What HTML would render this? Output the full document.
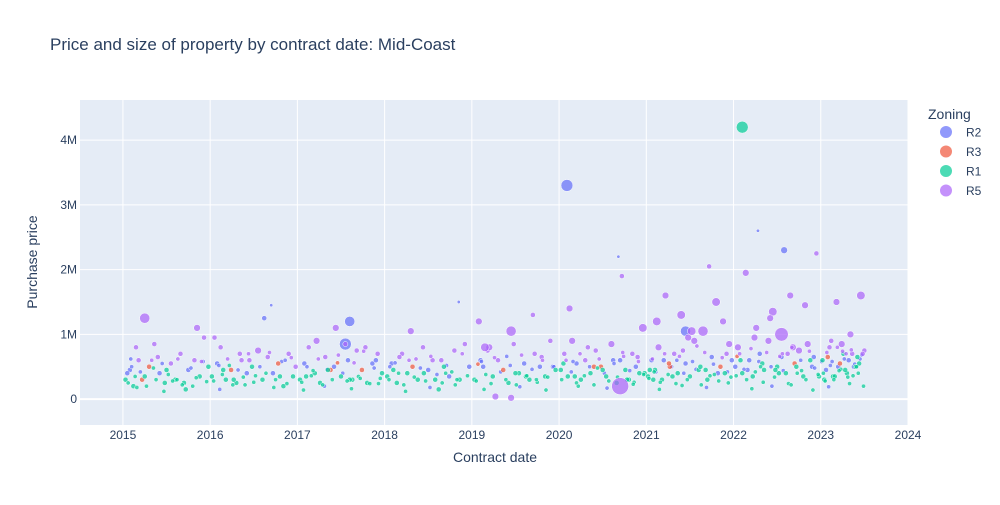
<!DOCTYPE html>
<html><head><meta charset="utf-8"><style>
body{margin:0;background:#fff;font-family:"Liberation Sans",Arial,sans-serif}
svg text{font-family:"Liberation Sans",Arial,sans-serif}
</style></head><body>
<svg id="chart" width="1000" height="500">
<rect x="0" y="0" width="1000" height="500" fill="#fff"/>
<text x="50" y="50" font-size="17" fill="#2a3f5f">Price and size of property by contract date: Mid-Coast</text>
<rect x="80" y="100" width="828" height="325" fill="#e5ecf6"/>
<g id="grid"></g><g id="pts"></g><g id="axes"></g>
<text x="495" y="462" font-size="14" fill="#2a3f5f" text-anchor="middle">Contract date</text>
<text transform="translate(37,262) rotate(-90)" font-size="14" fill="#2a3f5f" text-anchor="middle">Purchase price</text>
<g id="legend">
<text x="928" y="119" font-size="14" fill="#2a3f5f">Zoning</text>
</g>
</svg>
<script>
const xTicks=[2015,2016,2017,2018,2019,2020,2021,2022,2023,2024];
const yTicks=[0,1,2,3,4];
const yTickLabels=['0','1M','2M','3M','4M'];
const zoneNames=['R2','R3','R1','R5'];
const zoneColors=['#636efa','#EF553B','#00cc96','#ab63fa'];
const dates=[2015.03,2015.08,2015.12,2015.18,2015.25,2015.3,2015.36,2015.42,2015.48,2015.55,2015.6,2015.66,2015.72,2015.75,2015.82,2015.88,2015.93,2015.98,2015.05,2015.15,2015.22,2015.4,2015.5,2015.7,2015.85,
2016.02,2016.08,2016.12,2016.18,2016.24,2016.3,2016.36,2016.42,2016.48,2016.55,2016.6,2016.66,2016.72,2016.78,2016.84,2016.9,2016.95,2016.05,2016.15,2016.27,2016.45,2016.62,2016.8,2016.98,2016.7,2016.34,
2017.03,2017.08,2017.13,2017.2,2017.26,2017.32,2017.38,2017.44,2017.5,2017.55,2017.58,2017.63,2017.68,2017.74,2017.8,2017.86,2017.92,2017.97,2017.1,2017.22,2017.42,2017.6,2017.78,2017.9,2017.35,
2018.03,2018.08,2018.14,2018.2,2018.26,2018.32,2018.38,2018.44,2018.5,2018.55,2018.62,2018.68,2018.74,2018.8,2018.86,2018.92,2018.97,2018.1,2018.3,2018.45,2018.65,2018.85,2018.58,2018.17,
2019.03,2019.08,2019.13,2019.18,2019.24,2019.3,2019.36,2019.42,2019.48,2019.54,2019.6,2019.66,2019.72,2019.78,2019.84,2019.9,2019.96,2019.1,2019.27,2019.45,2019.62,2019.8,2019.93,2019.2,2019.5,2019.7,
2020.02,2020.06,2020.1,2020.15,2020.2,2020.25,2020.3,2020.36,2020.42,2020.48,2020.54,2020.6,2020.66,2020.7,2020.72,2020.76,2020.8,2020.84,2020.88,2020.92,2020.96,2020.05,2020.18,2020.33,2020.5,2020.62,2020.68,2020.78,2020.9,2020.98,2020.12,2020.4,
2021.02,2021.06,2021.1,2021.14,2021.18,2021.22,2021.27,2021.32,2021.36,2021.4,2021.45,2021.5,2021.55,2021.6,2021.65,2021.7,2021.75,2021.8,2021.85,2021.9,2021.95,2021.04,2021.12,2021.2,2021.3,2021.42,2021.52,2021.62,2021.72,2021.82,2021.92,2021.08,2021.26,2021.48,2021.68,2021.88,2021.98,
2022.02,2022.05,2022.1,2022.14,2022.18,2022.22,2022.26,2022.3,2022.35,2022.4,2022.45,2022.5,2022.55,2022.6,2022.65,2022.7,2022.75,2022.8,2022.85,2022.9,2022.95,2022.08,2022.16,2022.24,2022.33,2022.42,2022.52,2022.58,2022.62,2022.72,2022.82,2022.92,2022.28,2022.48,2022.68,2022.88,2022.98,
2023.02,2023.06,2023.1,2023.14,2023.18,2023.22,2023.26,2023.3,2023.34,2023.38,2023.42,2023.46,2023.5,2023.04,2023.12,2023.2,2023.28,2023.36,2023.44,2023.08,2023.16,2023.24,2023.32,2023.4,2023.48,
2020.09,2022.1,2020.7,2022.55,2017.6,2017.55,2015.25,2021.45,2019.15,2019.45,
2015.06,2015.1,2015.14,2015.2,2015.27,2015.33,2015.38,2015.45,2015.52,2015.57,2015.63,2015.68,2015.78,2015.84,2015.9,2015.96,
2016.04,2016.1,2016.14,2016.2,2016.26,2016.32,2016.38,2016.44,2016.5,2016.57,2016.64,2016.68,2016.75,2016.82,2016.88,2016.93,
2017.05,2017.11,2017.16,2017.24,2017.29,2017.34,2017.4,2017.47,2017.52,2017.57,2017.65,2017.7,2017.76,2017.83,2017.88,2017.95,
2018.05,2018.12,2018.16,2018.22,2018.28,2018.34,2018.41,2018.47,2018.53,2018.6,2018.66,2018.71,2018.77,2018.83,2018.89,2018.95,
2019.05,2019.11,2019.16,2019.22,2019.26,2019.33,2019.39,2019.44,2019.51,2019.57,2019.63,2019.69,2019.75,2019.81,2019.87,2019.94,
2020.03,2020.08,2020.14,2020.2,2020.24,2020.29,2020.35,2020.4,2020.46,2020.52,2020.57,2020.63,2020.67,2020.74,2020.81,2020.86,2020.91,2020.97,
2021.03,2021.07,2021.11,2021.16,2021.21,2021.25,2021.29,2021.34,2021.38,2021.43,2021.47,2021.53,2021.57,2021.63,2021.67,2021.73,2021.77,2021.83,2021.87,2021.93,2021.97,
2022.03,2022.07,2022.12,2022.15,2022.2,2022.25,2022.29,2022.34,2022.38,2022.43,2022.47,2022.53,2022.57,2022.63,2022.67,2022.73,2022.77,2022.83,2022.87,2022.93,2022.97,
2023.03,2023.07,2023.11,2023.15,2023.19,2023.23,2023.27,2023.31,2023.35,2023.39,2023.43,2023.47,2023.05,2023.13,2023.21,2023.29,2023.37,2023.45,
2015.09,2015.35,2015.62,2015.92,2016.22,2016.52,2016.86,2017.18,2017.46,2017.72,2018.06,2018.36,2018.7,2019.07,2019.4,2019.74,2020.16,2020.44,2020.73,2021.09,2021.35,2021.58,2021.78,2022.04,2022.31,2022.56,2022.78,2023.01,2023.25,2023.41,
2015.16,2015.47,2015.8,2016.11,2016.4,2016.73,2017.07,2017.31,2017.62,2017.93,2018.24,2018.52,2018.81,2019.14,2019.55,2019.85,2020.22,2020.55,2020.85,2021.15,2021.41,2021.69,2021.94,2022.21,2022.44,2022.66,2022.91,2023.09,2023.33,2023.49];
const prices=[0.3,0.45,0.2,0.6,0.35,0.5,0.85,0.4,0.25,0.55,0.3,0.7,0.15,0.45,0.6,0.35,0.95,0.5,0.4,0.8,0.3,0.65,0.45,0.25,1.1,
0.35,0.55,0.8,0.3,0.45,0.25,0.6,0.4,0.5,0.75,0.3,0.65,0.4,0.55,0.2,0.7,0.35,0.95,0.45,0.3,0.6,1.25,0.35,0.5,1.45,0.7,
0.3,0.55,0.8,0.4,0.25,0.65,0.45,1.1,0.35,0.85,0.6,0.3,0.75,0.45,0.25,0.55,0.7,0.4,0.35,0.9,0.5,0.3,0.8,0.6,0.45,
0.35,0.55,0.25,0.7,0.4,0.5,0.3,0.8,0.45,0.6,0.15,0.5,0.35,0.75,0.3,0.85,0.5,0.45,1.05,0.4,0.6,1.5,0.3,0.65,
0.3,1.2,0.5,0.75,0.35,0.6,0.45,0.25,0.85,0.4,0.55,0.3,0.7,0.5,0.35,0.9,0.45,0.6,0.04,1.05,0.35,0.65,0.5,0.8,0.4,1.3,
0.45,0.7,0.35,0.9,0.55,0.3,0.6,0.4,0.75,0.5,0.35,0.85,0.25,0.6,1.9,0.45,0.3,0.7,0.5,0.4,1.1,0.55,0.35,0.8,0.45,0.6,2.2,0.3,0.65,0.4,1.4,0.5,
0.35,0.6,0.45,0.8,0.3,1.6,0.5,0.7,0.4,1.3,0.55,0.35,0.9,0.45,1.05,0.3,0.65,1.5,0.5,0.4,0.85,0.45,1.2,0.6,0.35,0.75,1.05,0.5,2.05,0.4,0.7,0.3,0.55,0.95,0.45,1.2,0.6,
0.5,0.8,0.4,1.95,0.6,0.35,1.1,0.7,0.45,0.9,1.35,0.5,0.65,0.4,1.6,0.55,0.75,0.35,0.85,0.5,2.25,0.6,0.45,0.95,0.55,1.25,0.4,2.3,0.7,0.5,1.45,0.65,2.6,0.45,0.8,0.6,0.35,
0.6,0.45,0.8,0.35,1.5,0.55,0.7,0.4,1.0,0.5,0.65,1.6,0.75,0.3,0.9,0.5,0.45,0.7,0.55,0.65,0.35,0.85,0.6,0.5,0.7,
3.3,4.2,0.2,1.0,1.2,0.85,1.25,1.05,0.8,0.02,
0.25,0.5,0.35,0.42,0.2,0.6,0.3,0.55,0.38,0.28,0.62,0.22,0.48,0.33,0.58,0.27,
0.28,0.52,0.38,0.62,0.22,0.45,0.34,0.7,0.26,0.5,0.4,0.72,0.3,0.58,0.24,0.64,
0.26,0.5,0.36,0.62,0.22,0.46,0.3,0.68,0.4,0.28,0.56,0.35,0.74,0.24,0.48,0.32,
0.3,0.56,0.4,0.22,0.6,0.34,0.48,0.28,0.66,0.38,0.25,0.52,0.42,0.3,0.7,0.36,
0.28,0.58,0.38,0.24,0.64,0.42,0.3,0.52,0.22,0.68,0.36,0.46,0.26,0.6,0.34,0.5,
0.3,0.6,0.42,0.25,0.7,0.36,0.5,0.22,0.62,0.4,0.28,0.55,0.34,0.66,0.44,0.26,0.58,0.38,
0.32,0.62,0.42,0.26,0.7,0.38,0.5,0.24,0.66,0.4,0.3,0.58,0.46,0.22,0.72,0.36,0.54,0.28,0.64,0.42,0.34,
0.36,0.7,0.46,0.3,0.78,0.42,0.58,0.26,0.72,0.5,0.34,0.66,0.44,0.24,0.8,0.4,0.6,0.3,0.74,0.48,0.38,
0.4,0.72,0.52,0.3,0.8,0.46,0.62,0.34,0.76,0.54,0.4,0.68,0.28,0.58,0.44,0.7,0.36,0.62,
0.62,0.48,0.3,0.58,0.52,0.36,0.6,0.44,0.56,0.32,0.5,0.62,0.4,0.54,0.66,0.3,0.58,0.48,0.72,0.42,0.6,0.82,0.38,0.66,0.5,0.7,0.44,0.58,0.74,0.5,
0.18,0.12,0.2,0.15,0.22,0.18,0.14,0.2,0.16,0.24,0.12,0.18,0.22,0.15,0.19,0.14,0.2,0.17,0.23,0.15,0.21,0.18,0.25,0.16,0.2,0.22,0.14,0.19,0.24,0.2];
const sizes=[3,3,3,3,3,3,3,3,3,3,3,3,3,3,3,3,3,3,3,3,3,3,3,3,4,
3,3,3,3,3,3,3,3,3,4,3,3,3,3,3,3,3,3,3,3,3,3,3,3,2,3,
3,3,3,3,3,3,3,4,3,3,3,3,3,3,3,3,3,3,3,4,3,3,3,3,3,
3,3,3,3,3,3,3,3,3,3,3,3,3,3,3,3,3,3,4,3,3,2,3,3,
3,4,3,3,3,3,3,3,3,3,3,3,3,3,3,3,3,3,4,6,3,3,3,4,3,3,
3,3,3,4,3,3,3,3,3,3,3,4,3,3,3,3,3,3,3,3,5,3,3,3,3,3,2,3,3,3,4,3,
3,3,3,4,3,4,3,3,3,5,3,3,4,3,6,3,3,5,3,3,4,3,5,3,3,3,5,3,3,3,3,3,3,4,3,4,3,
3,4,3,4,3,3,4,3,3,4,5,3,3,3,4,3,4,3,4,3,3,3,3,4,3,4,3,4,3,3,4,3,2,3,4,3,3,
3,3,3,3,4,3,3,3,4,3,3,5,3,3,3,3,3,3,3,3,3,4,3,3,3,
7,7,10,8,6,7,6,6,5,4,
2.5,2.5,2.5,2.5,2.5,2.5,2.5,2.5,2.5,2.5,2.5,2.5,2.5,2.5,2.5,2.5,
2.5,2.5,2.5,2.5,2.5,2.5,2.5,2.5,2.5,2.5,2.5,2.5,2.5,2.5,2.5,2.5,
2.5,2.5,2.5,2.5,2.5,2.5,2.5,2.5,2.5,2.5,2.5,2.5,2.5,2.5,2.5,2.5,
2.5,2.5,2.5,2.5,2.5,2.5,2.5,2.5,2.5,2.5,2.5,2.5,2.5,2.5,2.5,2.5,
2.5,2.5,2.5,2.5,2.5,2.5,2.5,2.5,2.5,2.5,2.5,2.5,2.5,2.5,2.5,2.5,
2.5,2.5,2.5,2.5,2.5,2.5,2.5,2.5,2.5,2.5,2.5,2.5,2.5,2.5,2.5,2.5,2.5,2.5,
2.5,2.5,2.5,2.5,2.5,2.5,2.5,2.5,2.5,2.5,2.5,2.5,2.5,2.5,2.5,2.5,2.5,2.5,2.5,2.5,2.5,
2.5,2.5,2.5,2.5,2.5,2.5,2.5,2.5,2.5,2.5,2.5,2.5,2.5,2.5,2.5,2.5,2.5,2.5,2.5,2.5,2.5,
2.5,2.5,2.5,2.5,2.5,2.5,2.5,2.5,2.5,2.5,2.5,2.5,2.5,2.5,2.5,2.5,2.5,2.5,
2.5,2.5,2.5,2.5,2.5,2.5,2.5,2.5,2.5,2.5,2.5,2.5,2.5,2.5,2.5,2.5,2.5,2.5,2.5,2.5,2.5,2.5,2.5,2.5,2.5,2.5,2.5,2.5,2.5,2.5,
2.5,2.5,2.5,2.5,2.5,2.5,2.5,2.5,2.5,2.5,2.5,2.5,2.5,2.5,2.5,2.5,2.5,2.5,2.5,2.5,2.5,2.5,2.5,2.5,2.5,2.5,2.5,2.5,2.5,2.5];
const zones=['R1','R2','R1','R5','R1','R3','R5','R2','R1','R5','R1','R5','R1','R2','R5','R1','R5','R1','R2','R5','R3','R5','R1','R1','R5',
'R1','R2','R5','R1','R3','R1','R5','R2','R1','R5','R1','R5','R2','R3','R1','R5','R1','R5','R1','R1','R5','R2','R1','R5','R2','R5',
'R1','R2','R5','R1','R1','R5','R3','R5','R1','R5','R2','R1','R5','R3','R1','R2','R5','R1','R1','R5','R2','R1','R5','R2','R1',
'R1','R2','R1','R5','R1','R3','R1','R5','R2','R5','R1','R1','R2','R5','R1','R5','R2','R1','R5','R1','R5','R2','R1','R5',
'R1','R5','R2','R5','R1','R5','R3','R1','R5','R1','R2','R1','R5','R2','R1','R5','R1','R2','R5','R5','R1','R5','R2','R5','R1','R5',
'R1','R5','R1','R5','R2','R1','R5','R1','R5','R3','R1','R5','R1','R2','R5','R1','R1','R5','R2','R1','R5','R1','R1','R5','R1','R2','R2','R1','R5','R1','R5','R3',
'R1','R2','R1','R5','R1','R5','R3','R5','R1','R5','R2','R1','R5','R1','R5','R1','R2','R5','R3','R1','R5','R1','R5','R2','R1','R5','R5','R1','R5','R2','R5','R1','R3','R5','R1','R5','R2',
'R2','R5','R1','R5','R2','R1','R5','R2','R1','R5','R5','R1','R2','R1','R5','R3','R5','R1','R5','R2','R5','R1','R2','R5','R1','R5','R1','R2','R5','R1','R5','R2','R2','R1','R5','R1','R1',
'R1','R2','R5','R1','R5','R3','R1','R1','R5','R2','R1','R5','R5','R1','R5','R2','R1','R5','R1','R3','R1','R5','R2','R1','R5',
'R2','R1','R5','R5','R2','R2','R5','R2','R5','R5',
'R1','R2','R1','R2','R1','R5','R1','R2','R1','R1','R5','R1','R2','R1','R5','R1',
'R1','R2','R1','R5','R1','R2','R1','R5','R1','R2','R1','R5','R1','R2','R1','R5',
'R1','R2','R1','R5','R1','R2','R1','R5','R2','R1','R5','R1','R5','R1','R2','R1',
'R1','R2','R1','R1','R5','R1','R2','R1','R5','R2','R1','R2','R1','R1','R5','R1',
'R1','R2','R1','R1','R5','R2','R1','R2','R1','R5','R1','R2','R1','R5','R1','R2',
'R1','R5','R2','R1','R5','R1','R2','R1','R5','R2','R1','R2','R1','R5','R2','R1','R5','R1',
'R1','R5','R2','R1','R5','R1','R2','R1','R5','R2','R1','R2','R2','R1','R5','R1','R2','R1','R5','R2','R1',
'R1','R5','R2','R1','R5','R1','R2','R1','R5','R2','R1','R5','R2','R1','R5','R1','R2','R1','R5','R2','R1',
'R1','R5','R2','R1','R5','R1','R2','R1','R5','R2','R1','R2','R1','R2','R1','R5','R1','R2',
'R2','R1','R1','R2','R1','R1','R2','R1','R3','R1','R2','R5','R1','R3','R2','R1','R2','R1','R5','R1','R2','R5','R1','R3','R1','R5','R1','R2','R5','R1',
'R1','R1','R1','R2','R1','R1','R1','R2','R1','R1','R1','R2','R1','R1','R2','R1','R1','R2','R1','R1','R1','R2','R1','R1','R2','R1','R1','R2','R1','R1'];

const X0=80,X1=908,Y0=100,Y1=425;
const xMin=2014.508,xMax=2024,yMin=-0.4,yMax=4.62;
const sx=v=>X0+(v-xMin)/(xMax-xMin)*(X1-X0);
const sy=v=>Y1-(v-yMin)/(yMax-yMin)*(Y1-Y0);
const NS='http://www.w3.org/2000/svg';
function mk(tag,attrs,parent){const e=document.createElementNS(NS,tag);for(const k in attrs)e.setAttribute(k,attrs[k]);parent.appendChild(e);return e;}
const grid=document.getElementById('grid'),axes=document.getElementById('axes'),pts=document.getElementById('pts'),legend=document.getElementById('legend');
xTicks.forEach(t=>{
  const l=mk('line',{x1:sx(t),x2:sx(t),y1:Y0,y2:Y1,stroke:'#fff','stroke-width':1},grid);
  
  
  const tx=mk('text',{x:sx(t),y:Y1+14,'font-size':12,fill:'#2a3f5f','text-anchor':'middle'},axes);
  tx.textContent=t;
  
  
});
yTicks.forEach((t,i)=>{
  const l=mk('line',{x1:X0,x2:X1,y1:sy(t),y2:sy(t),stroke:'#fff','stroke-width':t===0?2:1},grid);
  
  
  const tx=mk('text',{x:X0-3,y:sy(t)+4,'font-size':12,fill:'#2a3f5f','text-anchor':'end'},axes);
  tx.textContent=yTickLabels[i];
  
  
});
zoneNames.forEach(z=>{
  const ci=zoneNames.indexOf(z);
  dates.forEach((d,i)=>{
    if(zones[i]!==z)return;
    const c=mk('circle',{cx:sx(d),cy:sy(prices[i]),r:sizes[i]*0.85,fill:zoneColors[ci],'fill-opacity':0.7,stroke:'#fff','stroke-width':0.5},pts);
    
    
  });
});
zoneNames.forEach((z,i)=>{
  const y=132+i*19.5;
  const c=mk('circle',{cx:946,cy:y,r:6,fill:zoneColors[i],'fill-opacity':0.7},legend);
  
  
  const t=mk('text',{x:966,y:y+4.5,'font-size':12,fill:'#2a3f5f'},legend);
  t.textContent=z;
  
  
});
</script>
</body></html>
